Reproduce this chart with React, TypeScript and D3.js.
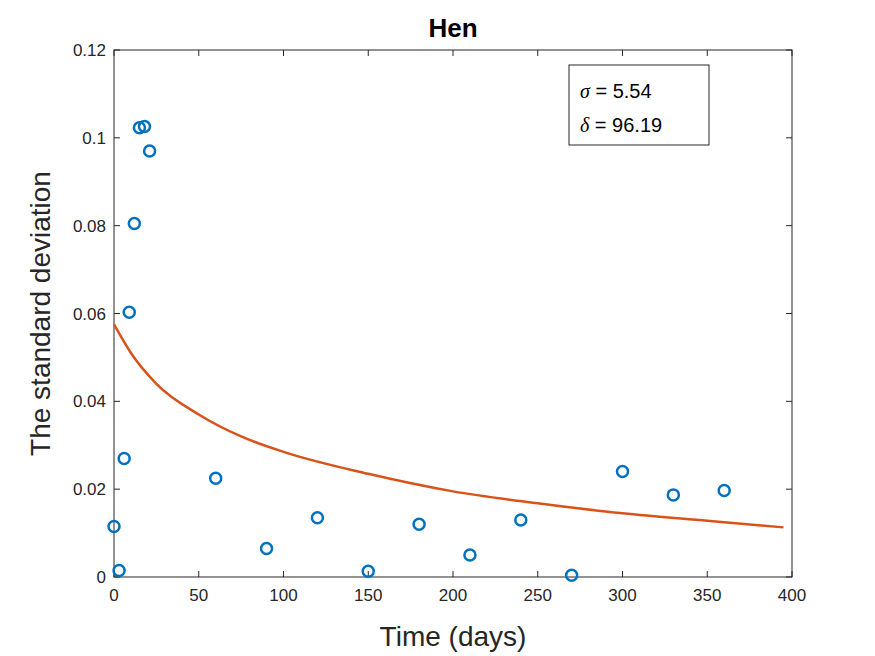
import * as d3 from "d3";

const days = [0, 3, 6, 9, 12, 15, 18, 21, 60, 90, 120, 150, 180, 210, 240, 270, 300, 330, 360];
const stdDev = [0.0115, 0.0015, 0.027, 0.0603, 0.0805, 0.1023, 0.1026, 0.097, 0.0225, 0.0065, 0.0135, 0.0013, 0.012, 0.005, 0.013, 0.0004, 0.024, 0.0187, 0.0197];
const fitDays = [0, 10, 25, 50, 75, 100, 150, 200, 250, 300, 350, 395];
const fitValues = [0.0575, 0.051, 0.044, 0.037, 0.032, 0.0285, 0.0235, 0.0195, 0.0168, 0.0145, 0.0128, 0.0113];
const xTicks = [0, 50, 100, 150, 200, 250, 300, 350, 400];
const yTicks = [0, 0.02, 0.04, 0.06, 0.08, 0.1, 0.12];

export default function App() {
  const width = 875;
  const height = 656;
  const left = 114, right = 792, top = 50, bottom = 577;
  const x = d3.scaleLinear().domain([0, 400]).range([left, right]);
  const y = d3.scaleLinear().domain([0, 0.12]).range([bottom, top]);
  const fitPath =
    d3.line<number>().x((_, i) => x(fitDays[i])).y((v) => y(v)).curve(d3.curveMonotoneX)(fitValues) ?? "";
  const font = "Liberation Sans, Arial, sans-serif";

  return (
    <svg width={width} height={height} style={{ position: "absolute", left: 0, top: 0, background: "#fff" }} fontFamily={font}>
      <rect x={left} y={top} width={right - left} height={bottom - top} fill="#fff" stroke="#262626" strokeWidth={1} />
      {xTicks.map((t) => (
        <g key={t}>
          <line x1={x(t)} x2={x(t)} y1={bottom} y2={bottom - 6} stroke="#262626" />
          <line x1={x(t)} x2={x(t)} y1={top} y2={top + 6} stroke="#262626" />
          <text x={x(t)} y={bottom + 24} textAnchor="middle" fontSize={17} fill="#262626">{t}</text>
        </g>
      ))}
      {yTicks.map((t) => (
        <g key={t}>
          <line x1={left} x2={left + 6} y1={y(t)} y2={y(t)} stroke="#262626" />
          <line x1={right} x2={right - 6} y1={y(t)} y2={y(t)} stroke="#262626" />
          <text x={left - 8} y={y(t) + 6} textAnchor="end" fontSize={17} fill="#262626">{t}</text>
        </g>
      ))}
      <path d={fitPath} fill="none" stroke="#d95319" strokeWidth={2.5} />
      {days.map((d, i) => (
        <circle key={d} cx={x(d)} cy={y(stdDev[i])} r={5.5} fill="none" stroke="#0072bd" strokeWidth={2.5} />
      ))}
      <text x={(left + right) / 2} y={37} textAnchor="middle" fontSize={26} fontWeight="bold" fill="#000">Hen</text>
      <text x={(left + right) / 2} y={646} textAnchor="middle" fontSize={28} fill="#262626">Time (days)</text>
      <text transform={`translate(50,${(top + bottom) / 2}) rotate(-90)`} textAnchor="middle" fontSize={28} fill="#262626">The standard deviation</text>
      <rect x={569} y={65} width={140} height={80} fill="#fff" stroke="#262626" />
      <text x={580} y={98} fontSize={20} fill="#000"><tspan fontFamily="Liberation Serif, serif" fontStyle="italic">σ</tspan> = 5.54</text>
      <text x={580} y={132} fontSize={20} fill="#000"><tspan fontFamily="Liberation Serif, serif" fontStyle="italic">δ</tspan> = 96.19</text>
    </svg>
  );
}
